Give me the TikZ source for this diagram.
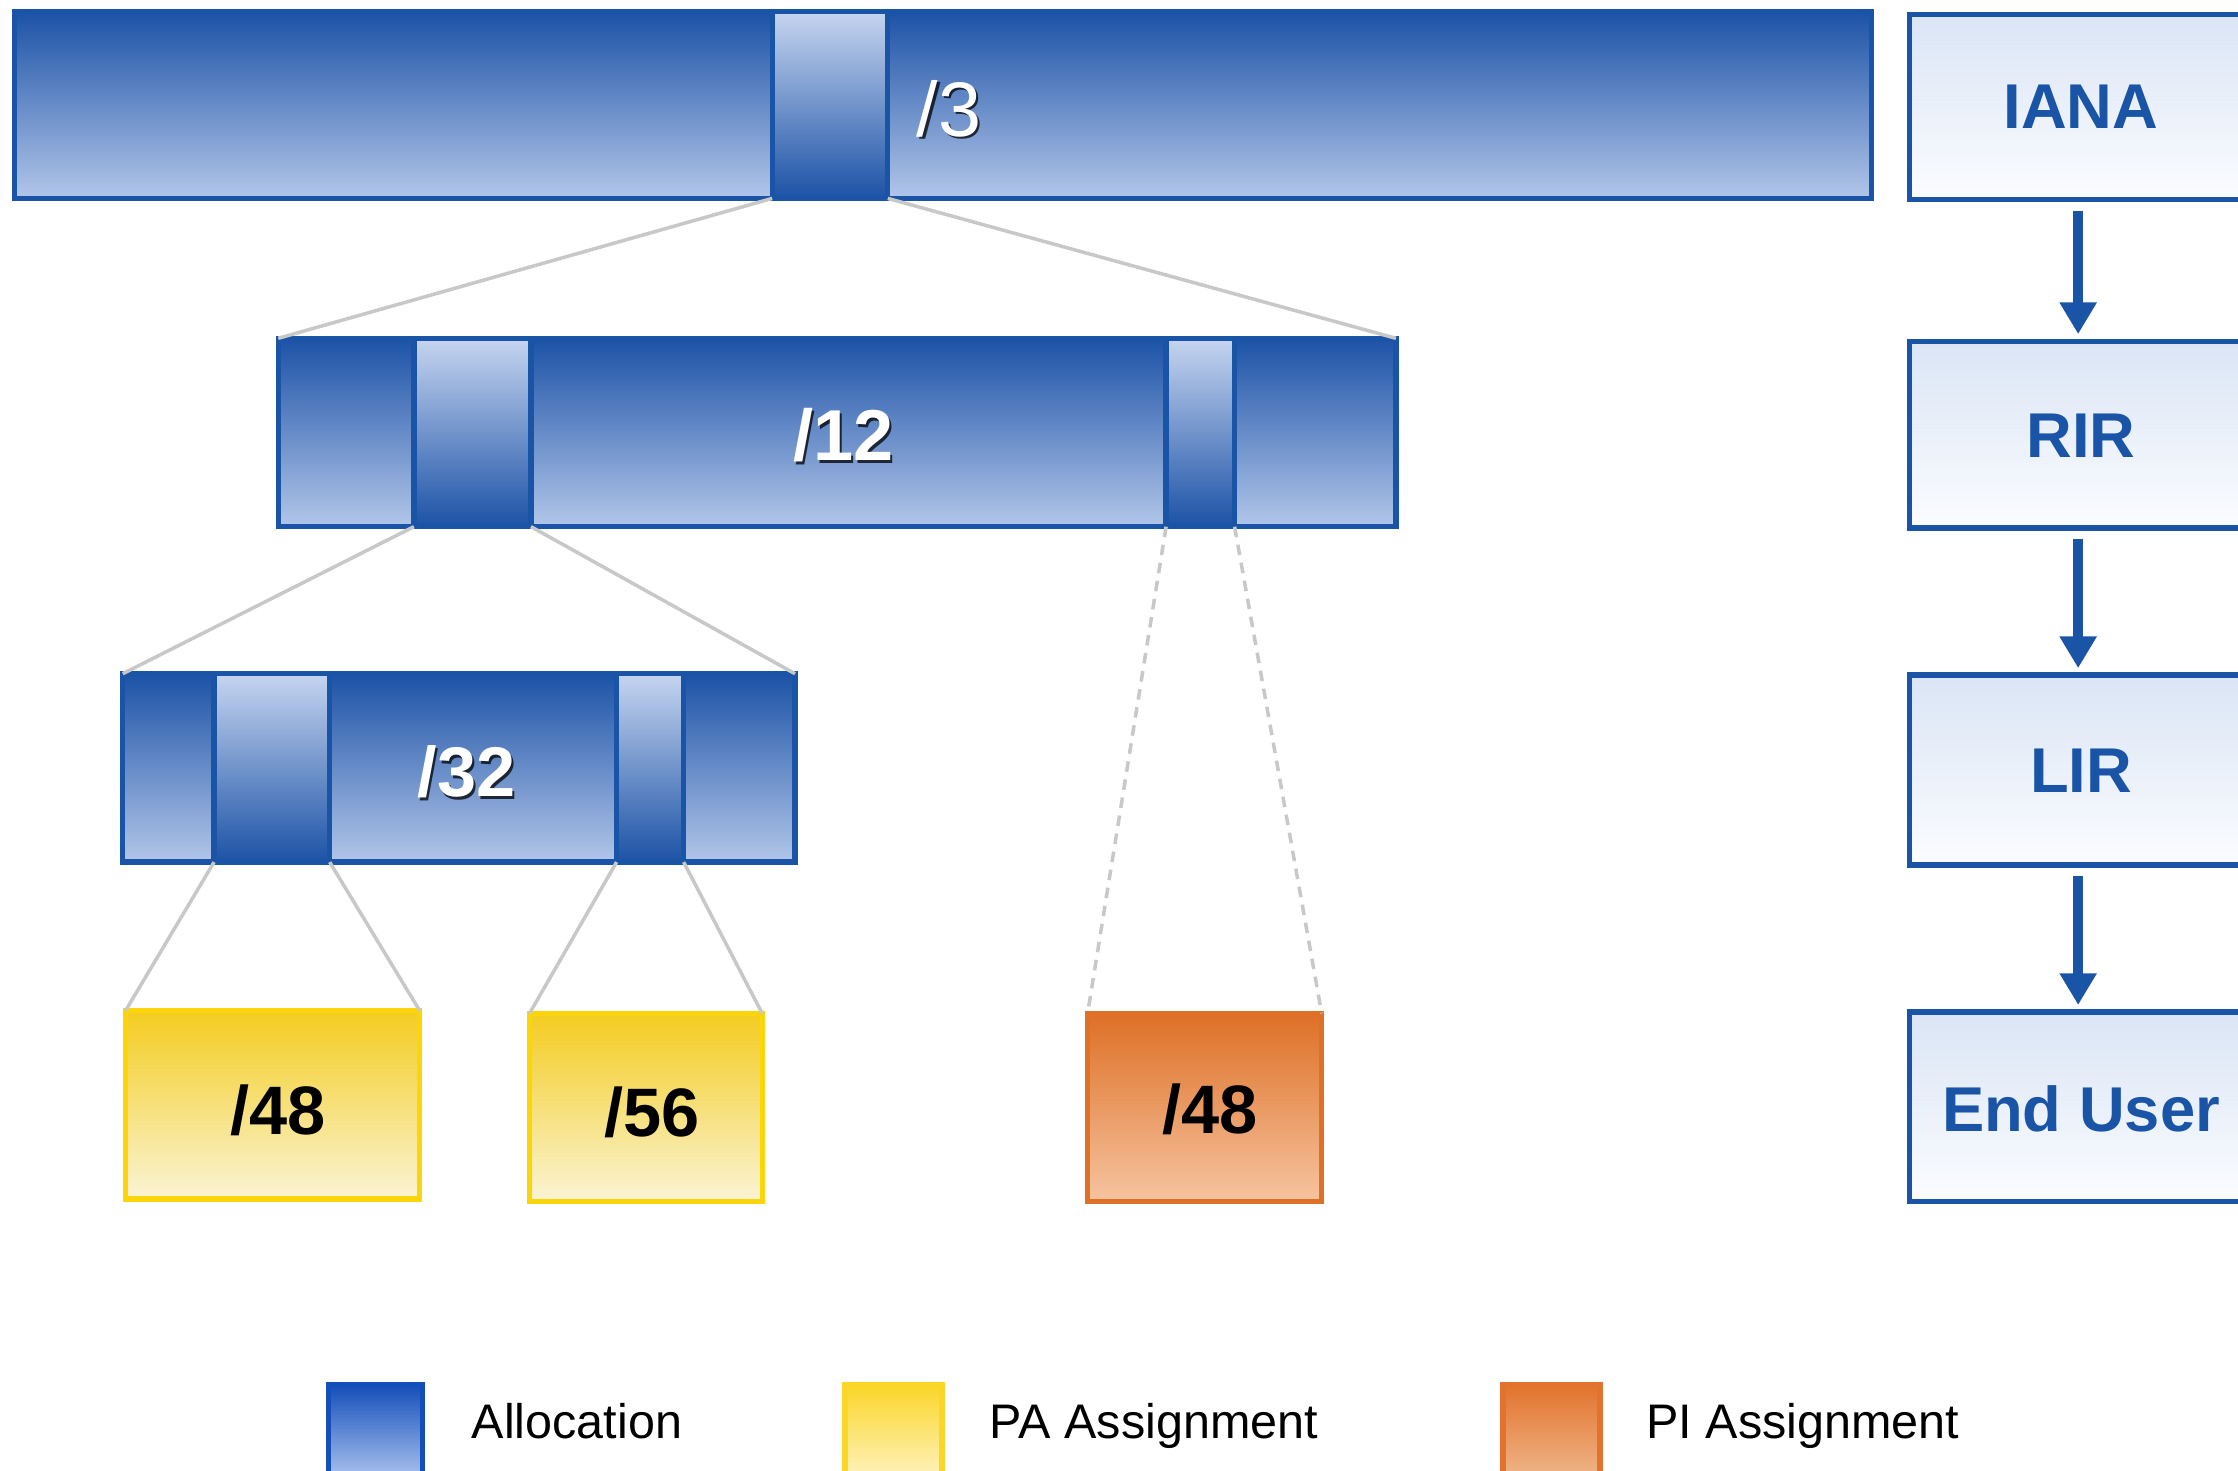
\documentclass[tikz,border=0pt]{standalone}
\usepackage{fontspec}
\setmainfont{Liberation Sans}
\usetikzlibrary{fit,arrows.meta}
\definecolor{bblue}{RGB}{26,84,166}
\definecolor{bdark}{RGB}{28,82,166}
\definecolor{blight}{RGB}{178,198,233}
\definecolor{slight}{RGB}{198,213,240}
\definecolor{rtop}{RGB}{218,229,245}
\definecolor{rbot}{RGB}{251,252,255}
\definecolor{ybord}{RGB}{252,212,10}
\definecolor{ytop}{RGB}{244,204,32}
\definecolor{ybot}{RGB}{250,244,212}
\definecolor{obord}{RGB}{223,112,40}
\definecolor{otop}{RGB}{222,112,38}
\definecolor{obot}{RGB}{246,196,160}
\definecolor{lgray}{RGB}{200,200,200}
\definecolor{lgblue}{RGB}{20,78,185}
\definecolor{lgbluel}{RGB}{192,211,246}
\definecolor{lgyel}{RGB}{250,214,40}
\definecolor{lgyell}{RGB}{255,246,212}
\definecolor{lgor}{RGB}{226,115,45}
\definecolor{lgorl}{RGB}{241,192,152}
\begin{document}
\begin{tikzpicture}[x=0.014273cm,y=-0.014273cm,
  box/.style={inner sep=0pt,outer sep=0pt,line width=1.5pt},
  bar/.style={box,draw=bblue,top color=bdark,bottom color=blight},
  slot/.style={box,draw=bblue,top color=slight,bottom color=bdark},
  ybox/.style={box,draw=ybord,top color=ytop,bottom color=ybot},
  obox/.style={box,draw=obord,top color=otop,bottom color=obot},
  rbox/.style={box,draw=bblue,top color=rtop,bottom color=rbot},
  asgtxt/.style={inner sep=0pt,font=\fontsize{19.5}{19.5}\selectfont\bfseries},
  rtxt/.style={inner sep=0pt,text=bblue,font=\fontsize{18}{18}\selectfont\bfseries},
  wlab/.style={text=white,inner sep=0pt},
  slab/.style={text=black,opacity=0.75,inner sep=0pt},
  link/.style={draw=lgray,line width=1pt},
  dlink/.style={link,dash pattern=on 3pt off 2.2pt},
  arr/.style={draw=bblue,line width=3pt,-{Triangle[width=10pt,length=9pt]},shorten <=3.2pt,shorten >=2pt},
  lgtext/.style={anchor=base west,inner sep=0pt,font=\fontsize{13.8}{13.8}\selectfont}
]
\clip (0,0) rectangle (1568,1030);
\fill[white] (0,0) rectangle (1568,1030);

% level 1
\node[bar,fit={(10,8) (1311,139)}] (b1) {};
\node[slot,fit={(541,8) (622,139)}] (s1) {};
\draw[bblue,line width=1.5pt] (b1.north west) rectangle (b1.south east);
\node[slab,font=\fontsize{22}{22}\selectfont] at ([xshift=0.6pt,yshift=-0.7pt]665,76) {/3};
\node[wlab,font=\fontsize{22}{22}\selectfont] (l3) at (665,76) {/3};

% level 2
\node[bar,fit={(195,237) (978,369)}] (b2) {};
\node[slot,fit={(290,237) (372,369)}] (s2a) {};
\node[slot,fit={(817,237) (865,369)}] (s2b) {};
\draw[bblue,line width=1.5pt] (b2.north west) rectangle (b2.south east);
\node[slab,font=\fontsize{20.5}{20.5}\selectfont\bfseries] at ([xshift=0.6pt,yshift=-0.7pt]591,305) {/12};
\node[wlab,font=\fontsize{20.5}{20.5}\selectfont\bfseries] (l12) at (591,305) {/12};

% level 3
\node[bar,fit={(86,472) (557,604)}] (b3) {};
\node[slot,fit={(150,472) (231,604)}] (s3a) {};
\node[slot,fit={(432,472) (479,604)}] (s3b) {};
\draw[bblue,line width=1.5pt] (b3.north west) rectangle (b3.south east);
\node[slab,font=\fontsize{20}{20}\selectfont\bfseries] at ([xshift=0.6pt,yshift=-0.7pt]327,541) {/32};
\node[wlab,font=\fontsize{20}{20}\selectfont\bfseries] (l32) at (327,541) {/32};

% assignments
\node[ybox,fit={(88,708) (294,840)}] (y1) {};
\node[ybox,fit={(371,710) (534,842)}] (y2) {};
\node[obox,fit={(762,710) (926,842)}] (o1) {};
\node[asgtxt] (y1t) at (195,778) {/48};
\node[asgtxt] (y2t) at (457,779) {/56};
\node[asgtxt] (o1t) at (848,777) {/48};

% connectors
\draw[link] (s1.south west) -- (b2.north west);
\draw[link] (s1.south east) -- (b2.north east);
\draw[link] (s2a.south west) -- (b3.north west);
\draw[link] (s2a.south east) -- (b3.north east);
\draw[dlink] (s2b.south west) -- (o1.north west);
\draw[dlink] (s2b.south east) -- (o1.north east);
\draw[link] (s3a.south west) -- (y1.north west);
\draw[link] (s3a.south east) -- (y1.north east);
\draw[link] (s3b.south west) -- (y2.north west);
\draw[link] (s3b.south east) -- (y2.north east);

% hierarchy column
\node[rbox,fit={(1338,10) (1574,140)}] (iana) {};
\node[rbox,fit={(1338,239) (1574,370)}] (rir) {};
\node[rbox,fit={(1338,473) (1574,606)}] (lir) {};
\node[rbox,fit={(1338,709) (1574,842)}] (eu) {};
\node[rtxt] (ianat) at (1458,75) {IANA};
\node[rtxt] (rirt) at (1458,305) {RIR};
\node[rtxt] (lirt) at (1458,540) {LIR};
\node[rtxt] (eut) at (1458,777) {End User};
\draw[arr] (iana.south) -- (rir.north);
\draw[arr] (rir.south) -- (lir.north);
\draw[arr] (lir.south) -- (eu.north);

% legend
\node[box,draw=lgblue,top color=lgblue,bottom color=lgbluel,fit={(230,970) (296,1045)}] (lg1) {};
\node[box,draw=lgyel,top color=lgyel,bottom color=lgyell,fit={(592,970) (660,1045)}] (lg2) {};
\node[box,draw=lgor,top color=lgor,bottom color=lgorl,fit={(1053,970) (1121,1045)}] (lg3) {};
\node[lgtext] (t1) at (330,1008) {Allocation};
\node[lgtext] (t2) at (693,1008) {PA Assignment};
\node[lgtext] (t3) at (1153,1008) {PI Assignment};
\end{tikzpicture}
\end{document}
